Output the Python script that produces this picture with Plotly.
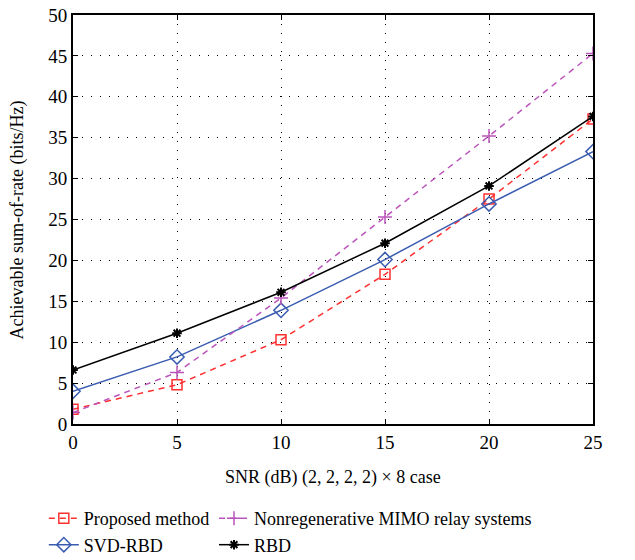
import plotly.graph_objects as go

snr = [0, 5, 10, 15, 20, 25]
proposed = [1.8, 4.8, 10.3, 18.3, 27.5, 37.3]
nonregen = [1.4, 6.3, 15.4, 25.3, 35.2, 45.3]
svd_rbd = [4.0, 8.2, 13.9, 20.1, 26.9, 33.3]
rbd = [6.6, 11.1, 16.1, 22.1, 29.1, 37.6]

FONT = "Liberation Serif"
X_TITLE = "SNR (dB) (2, 2, 2, 2) × 8 case"
Y_TITLE = "Achievable sum-of-rate (bits/Hz)"

fig = go.Figure()
fig.add_trace(go.Scatter(x=snr, y=proposed, name="Proposed method", mode="lines+markers",
                         line=dict(color="#ff3030", width=1.5, dash="6px,5px"),
                         marker=dict(symbol="square-open", size=10, color="#ff3030", line=dict(width=1.5)),
                         legend="legend"))
fig.add_trace(go.Scatter(x=snr, y=svd_rbd, name="SVD-RBD", mode="lines+markers",
                         line=dict(color="#3a5cb0", width=1.5),
                         marker=dict(symbol="diamond-open", size=11, color="#3a5cb0", line=dict(width=1.5)),
                         legend="legend"))
fig.add_trace(go.Scatter(x=snr, y=nonregen, name="Nonregenerative MIMO relay systems", mode="lines+markers",
                         line=dict(color="#bb55bb", width=1.5, dash="6px,5px"),
                         marker=dict(symbol="cross-thin-open", size=10, color="#bb55bb", line=dict(width=1.5, color="#bb55bb")),
                         legend="legend2"))
fig.add_trace(go.Scatter(x=snr, y=rbd, name="RBD", mode="lines+markers",
                         line=dict(color="black", width=1.5),
                         marker=dict(symbol="asterisk-open", size=8, color="black", line=dict(width=2, color="black")),
                         legend="legend2"))

axis_common = dict(showline=True, linecolor="black", linewidth=2, mirror="ticks",
                   ticks="inside", ticklen=5, tickcolor="black", tickwidth=1,
                   showgrid=True, gridcolor="black", gridwidth=1, griddash="1px,8px",
                   zeroline=False, automargin=False,
                   tickfont=dict(family=FONT, size=19, color="black"))

fig.update_xaxes(range=[0, 25], tickvals=[0, 5, 10, 15, 20, 25], **axis_common)
fig.update_yaxes(range=[0, 50], tickvals=[0, 5, 10, 15, 20, 25, 30, 35, 40, 45, 50],
                 ticksuffix=" ", **axis_common)

fig.add_annotation(text=X_TITLE, xref="paper", yref="paper", x=0.5, y=-0.132,
                   xanchor="center", yanchor="middle", showarrow=False,
                   font=dict(family=FONT, size=18, color="black"))
fig.add_annotation(text=Y_TITLE, xref="paper", yref="paper", x=-0.106, y=0.5,
                   xanchor="center", yanchor="middle", showarrow=False, textangle=-90,
                   font=dict(family=FONT, size=18, color="black"))

leg_common = dict(orientation="v", yanchor="top", y=0.107, yref="container", xref="container",
                  xanchor="left",
                  font=dict(family=FONT, size=18, color="black"),
                  bgcolor="rgba(0,0,0,0)", tracegroupgap=0, itemwidth=30)
fig.update_layout(
    width=635, height=560,
    margin=dict(l=73, r=42, t=15, b=136, autoexpand=False),
    plot_bgcolor="white", paper_bgcolor="white",
    legend=dict(x=0.069, **leg_common),
    legend2=dict(x=0.337, **leg_common),
    showlegend=True,
)

fig.write_html("out.html", post_script="document.body.style.margin='0';",
               config={"displayModeBar": False})
